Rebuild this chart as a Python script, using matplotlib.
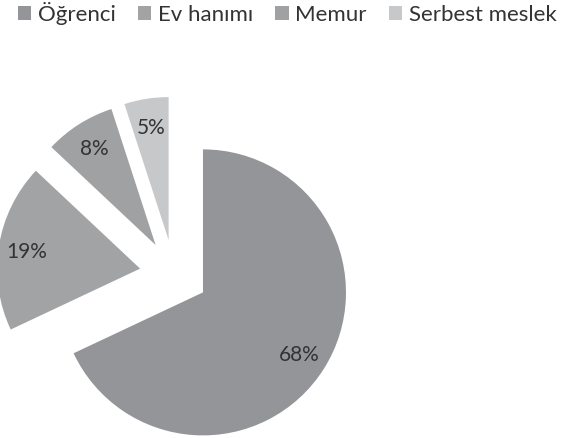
import matplotlib
matplotlib.use("Agg")
import matplotlib.pyplot as plt
from matplotlib.patches import Patch

plt.rcParams['font.family'] = ['Lato', 'DejaVu Sans']

labels = ['Öğrenci', 'Ev hanımı', 'Memur', 'Serbest meslek']
values = [68, 19, 8, 5]
colors = ['#939598', '#a2a3a5', '#a0a1a3', '#c7c8ca']
explode = [0.24, 0.24, 0.24, 0.24]

fig = plt.figure(figsize=(5.64, 4.39), dpi=100)
ax = fig.add_axes([0, 0, 1, 1])

wedges, texts, autotexts = ax.pie(values, colors=colors, explode=explode,
                                  startangle=90, counterclock=False,
                                  autopct='%1.0f%%', pctdistance=0.8,
                                  wedgeprops=dict(linewidth=0),
                                  textprops=dict(color='#333333', fontsize=15))

# pie center at (174, 275) px, radius 143 px
ax.set_xlim(-174 / 143, (564 - 174) / 143)
ax.set_ylim(-(439 - 275) / 143, 275 / 143)
ax.set_aspect('auto')
ax.axis('off')

handles = [Patch(facecolor=c, edgecolor='none') for c in colors]
fig.legend(handles, labels, loc='upper left', bbox_to_anchor=(-0.004, 1.04),
           ncol=4, frameon=False, fontsize=16, handlelength=0.6,
           handleheight=0.6, handletextpad=0.3, columnspacing=1.0,
           labelcolor='#333333')

fig.savefig('out.png', dpi=100)
